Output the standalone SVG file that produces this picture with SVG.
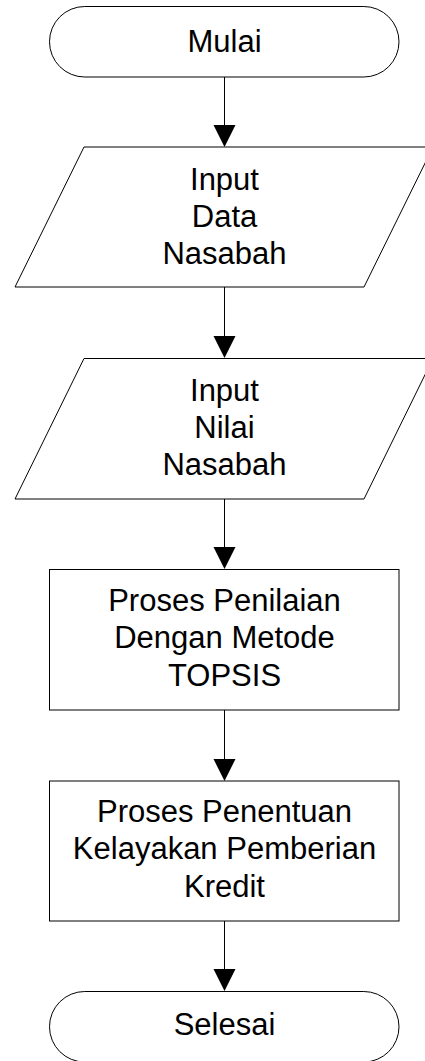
<svg xmlns="http://www.w3.org/2000/svg" width="425" height="1061" viewBox="0 0 425 1061">
<defs>
<style>
.shape{fill:#ffffff;stroke:#000000;stroke-width:1}
.lbl{font-family:"Liberation Sans",Arial,sans-serif;font-size:31px;fill:#000000;text-anchor:middle}
.conn{stroke:#000000;stroke-width:1;fill:none}
.head{fill:#000000;stroke:none}
</style>
</defs>
<rect width="425" height="1061" fill="#ffffff"/>
<g id="connectors">
<line class="conn" x1="224.5" y1="77" x2="224.5" y2="126"/>
<polygon class="head" points="213.5,125 235.5,125 224.5,147"/>
<line class="conn" x1="224.5" y1="287" x2="224.5" y2="337"/>
<polygon class="head" points="213.5,336 235.5,336 224.5,358"/>
<line class="conn" x1="224.5" y1="499" x2="224.5" y2="548"/>
<polygon class="head" points="213.5,547 235.5,547 224.5,569"/>
<line class="conn" x1="224.5" y1="710" x2="224.5" y2="760"/>
<polygon class="head" points="213.5,759 235.5,759 224.5,781"/>
<line class="conn" x1="224.5" y1="921" x2="224.5" y2="970"/>
<polygon class="head" points="213.5,969 235.5,969 224.5,991"/>
</g>
<g id="mulai">
<rect class="shape" x="49.5" y="6.5" width="349.5" height="70.5" rx="35.25" ry="35.25"/>
<text class="lbl" x="224.5" y="52">Mulai</text>
</g>
<g id="input-data">
<polygon class="shape" points="84,147 433,147 364,287 15,287"/>
<text class="lbl" x="224.5" y="190">Input</text>
<text class="lbl" x="224.5" y="227">Data</text>
<text class="lbl" x="224.5" y="264">Nasabah</text>
</g>
<g id="input-nilai">
<polygon class="shape" points="84,358.5 433,358.5 364,499 15,499"/>
<text class="lbl" x="224.5" y="401">Input</text>
<text class="lbl" x="224.5" y="438">Nilai</text>
<text class="lbl" x="224.5" y="475">Nasabah</text>
</g>
<g id="proses-penilaian">
<rect class="shape" x="49.5" y="569.5" width="349.5" height="140.5"/>
<text class="lbl" x="224.5" y="611">Proses Penilaian</text>
<text class="lbl" x="224.5" y="648">Dengan Metode</text>
<text class="lbl" x="224.5" y="686">TOPSIS</text>
</g>
<g id="proses-penentuan">
<rect class="shape" x="49.5" y="781" width="349.5" height="140"/>
<text class="lbl" x="224.5" y="822">Proses Penentuan</text>
<text class="lbl" x="224.5" y="859">Kelayakan Pemberian</text>
<text class="lbl" x="224.5" y="897">Kredit</text>
</g>
<g id="selesai">
<rect class="shape" x="49.5" y="991.5" width="349.5" height="70.5" rx="35.25" ry="35.25"/>
<text class="lbl" x="224.5" y="1035">Selesai</text>
</g>
</svg>
